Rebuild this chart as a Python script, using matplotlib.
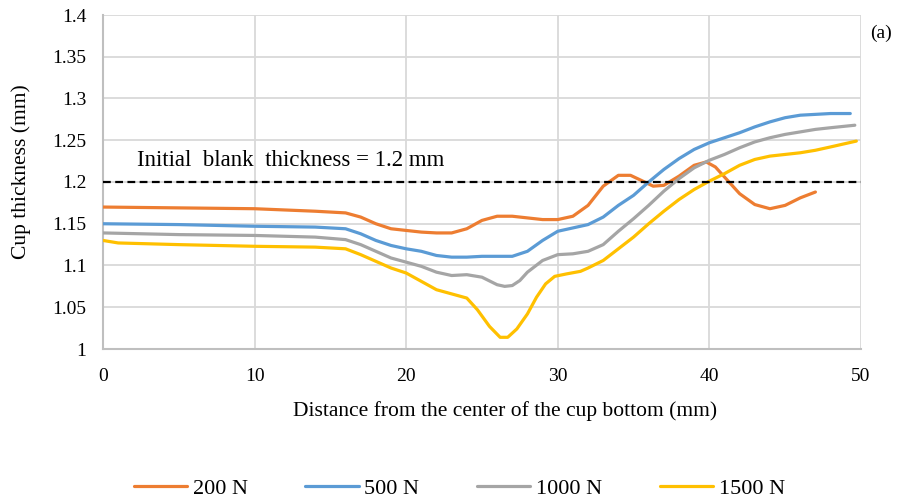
import matplotlib
matplotlib.use('Agg')
import matplotlib.pyplot as plt

plt.rcParams['font.family'] = ['Liberation Serif', 'DejaVu Serif']

# Cup wall thickness along the profile for each blank holder force
x_200 = [0, 5, 10, 14, 16, 17, 18, 19, 20, 21, 22, 23, 24, 25, 26, 27, 28, 29, 30, 31,
         32, 33, 34, 34.8, 35.5, 36.3, 37, 38, 39, 39.8, 40.4, 41, 42, 43, 44, 45, 46, 47]
t_200 = [1.170, 1.169, 1.168, 1.165, 1.163, 1.158, 1.150, 1.144, 1.142, 1.140, 1.139, 1.139,
         1.144, 1.154, 1.159, 1.159, 1.157, 1.155, 1.155, 1.159, 1.172, 1.195, 1.208, 1.208,
         1.202, 1.195, 1.196, 1.207, 1.220, 1.224, 1.218, 1.206, 1.186, 1.173, 1.168, 1.172,
         1.181, 1.188]

x_500 = [0, 5, 10, 14, 16, 17, 18, 19, 20, 21, 22, 23, 24, 25, 26, 27, 28, 29, 30, 31,
         32, 33, 34, 35, 36, 37, 38, 39, 40, 41, 42, 43, 44, 45, 46, 47, 48, 49.3]
t_500 = [1.150, 1.149, 1.147, 1.146, 1.144, 1.138, 1.130, 1.124, 1.120, 1.117, 1.112, 1.110,
         1.110, 1.111, 1.111, 1.111, 1.117, 1.130, 1.141, 1.145, 1.149, 1.158, 1.172, 1.184,
         1.200, 1.215, 1.228, 1.239, 1.247, 1.253, 1.259, 1.266, 1.272, 1.277, 1.280, 1.281,
         1.282, 1.282]

x_1000 = [0, 5, 10, 14, 16, 17, 18, 19, 20, 21, 22, 23, 24, 25, 26, 26.5, 27, 27.5, 28, 29,
          30, 31, 32, 33, 34, 35, 36, 37, 38, 39, 40, 41, 42, 43, 44, 45, 46, 47, 48, 49.6]
t_1000 = [1.139, 1.137, 1.136, 1.134, 1.131, 1.125, 1.117, 1.109, 1.104, 1.099, 1.092, 1.088,
          1.089, 1.086, 1.077, 1.075, 1.076, 1.082, 1.092, 1.106, 1.113, 1.114, 1.117, 1.125,
          1.141, 1.156, 1.172, 1.189, 1.204, 1.217, 1.226, 1.233, 1.241, 1.248, 1.253, 1.257,
          1.260, 1.263, 1.265, 1.268]

x_1500 = [0, 1, 5, 10, 14, 16, 17, 18, 19, 20, 21, 22, 23, 24, 24.7, 25.5, 26.2, 26.7, 27.3,
          28, 28.6, 29.2, 29.8, 30.6, 31.5, 32, 33, 34, 35, 36, 37, 38, 39, 40, 41, 42, 43,
          44, 45, 46, 47, 48, 49.7]
t_1500 = [1.130, 1.127, 1.125, 1.123, 1.122, 1.120, 1.113, 1.105, 1.097, 1.091, 1.081, 1.071,
          1.066, 1.061, 1.047, 1.027, 1.014, 1.014, 1.024, 1.042, 1.062, 1.078, 1.087, 1.090,
          1.093, 1.097, 1.106, 1.120, 1.134, 1.150, 1.165, 1.179, 1.191, 1.201, 1.210, 1.220,
          1.227, 1.231, 1.233, 1.235, 1.238, 1.242, 1.249]

blank_thickness = 1.2
x_ticks = [0, 10, 20, 30, 40, 50]
y_ticks = [1, 1.05, 1.1, 1.15, 1.2, 1.25, 1.3, 1.35, 1.4]
y_tick_labels = ['1', '1.05', '1.1', '1.15', '1.2', '1.25', '1.3', '1.35', '1.4']

series = [
    (x_200, t_200, '200 N', '#ED7D31'),
    (x_500, t_500, '500 N', '#5B9BD5'),
    (x_1000, t_1000, '1000 N', '#A5A5A5'),
    (x_1500, t_1500, '1500 N', '#FFC000'),
]

fig = plt.figure(figsize=(8.99, 5.0), dpi=100)
ax = fig.add_axes([0.1146, 0.302, 0.843, 0.668])

for xs, ys, label, color in series:
    ax.plot(xs, ys, color=color, lw=2.3, label=label,
            solid_joinstyle='round', solid_capstyle='round', zorder=3)

ax.axhline(blank_thickness, color='black', lw=1.6, ls=(0, (3.5, 2)), zorder=4)
ax.text(2.25, 1.226, 'Initial  blank  thickness = 1.2 mm', fontsize=16.5,
        va='center', ha='left')

ax.set_xlim(0, 50)
ax.set_ylim(1, 1.4)
ax.set_xticks(x_ticks)
ax.set_yticks(y_ticks)
ax.set_yticklabels(y_tick_labels)
ax.tick_params(length=0, labelsize=14, pad=12)
ax.tick_params(axis='x', pad=14)

ax.grid(True, color='#d9d9d9', lw=1.3, zorder=0)
ax.set_axisbelow(True)
for side in ['top', 'right']:
    ax.spines[side].set_visible(False)
for side in ['left', 'bottom']:
    ax.spines[side].set_color('#bfbfbf')
    ax.spines[side].set_linewidth(1.5)

ax.set_xlabel('Distance from the center of the cup bottom (mm)', fontsize=15.5)
ax.xaxis.set_label_coords(0.53, -0.155)
ax.set_ylabel('Cup thickness (mm)', fontsize=15.5)
ax.yaxis.set_label_coords(-0.095, 0.53)

fig.text(0.968, 0.934, '(a)', fontsize=14, ha='left', va='center')

fig.legend(loc='lower center', bbox_to_anchor=(0.511, -0.038), ncol=4, frameon=False,
           fontsize=16, handlelength=2.4, handletextpad=0.25, columnspacing=2.6)

fig.savefig('out.png', dpi=100)
